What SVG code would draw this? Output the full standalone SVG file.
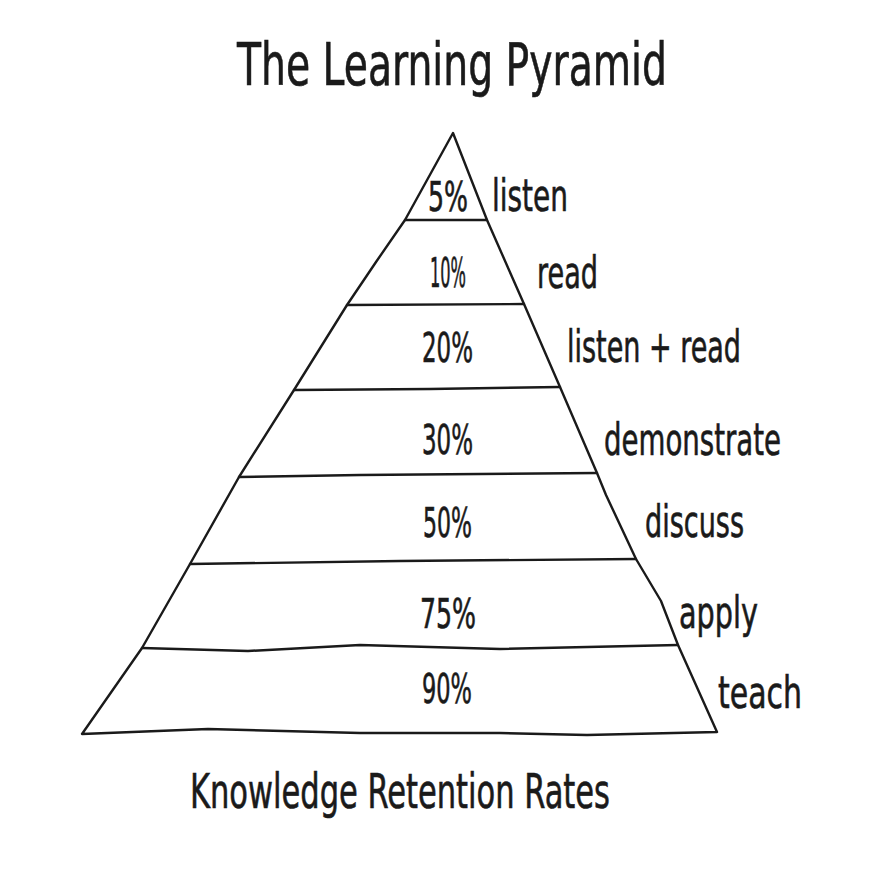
<svg xmlns="http://www.w3.org/2000/svg" width="876" height="886" viewBox="0 0 876 886">
<style>
.ln{fill:none;stroke:#1a1a1a;stroke-width:2.4;stroke-linejoin:round;stroke-linecap:round}
.t{font-family:"Liberation Sans Narrow","DejaVu Sans Condensed","Liberation Sans",sans-serif;fill:#1a1a1a;stroke:#1a1a1a;stroke-width:0.6}
.pct{font-size:40px}
.lab{font-size:44px}
</style>
<rect width="876" height="886" fill="#ffffff"/>
<g id="title"><text class="t" x="237" y="85" font-size="58" textLength="430" lengthAdjust="spacingAndGlyphs">The Learning Pyramid</text></g>
<g id="pyramid">
<path class="ln" d="M453 133 L487 220 L524 304 L560 387 L597 473 L606 495 L636 559 L661 601 L678 645 L717 732 L587 735 L500 733 L360 733 L208 729 L82 734 L142 648 L158 620 L190 564 L239 477 L294 390 L347 305 L376 262 L405 220 Z"/>
</g>
<g id="connectors">
<path class="ln" d="M405 220 L487 220"/>
<path class="ln" d="M347 305 L524 304"/>
<path class="ln" d="M294 390 L430 389 L560 387"/>
<path class="ln" d="M239 477 L360 475 L597 473"/>
<path class="ln" d="M190 564 L400 561 L636 559"/>
<path class="ln" d="M142 648 L248 651 L360 645 L500 649 L678 645"/>
</g>
<g id="tier-listen"><text class="t pct" x="428" y="211" textLength="40" lengthAdjust="spacingAndGlyphs">5%</text><text class="t lab" x="492" y="211" textLength="76" lengthAdjust="spacingAndGlyphs">listen</text></g>
<g id="tier-read"><text class="t pct" x="430" y="287" textLength="36" lengthAdjust="spacingAndGlyphs">10%</text><text class="t lab" x="537" y="288" textLength="61" lengthAdjust="spacingAndGlyphs">read</text></g>
<g id="tier-listen-read"><text class="t pct" x="422" y="362" textLength="51" lengthAdjust="spacingAndGlyphs">20%</text><text class="t lab" x="567" y="362" textLength="174" lengthAdjust="spacingAndGlyphs">listen + read</text></g>
<g id="tier-demonstrate"><text class="t pct" x="422" y="454" textLength="51" lengthAdjust="spacingAndGlyphs">30%</text><text class="t lab" x="604" y="455" textLength="177" lengthAdjust="spacingAndGlyphs">demonstrate</text></g>
<g id="tier-discuss"><text class="t pct" x="423" y="537" textLength="49" lengthAdjust="spacingAndGlyphs">50%</text><text class="t lab" x="645" y="537" textLength="99" lengthAdjust="spacingAndGlyphs">discuss</text></g>
<g id="tier-apply"><text class="t pct" x="420" y="628" textLength="56" lengthAdjust="spacingAndGlyphs">75%</text><text class="t lab" x="679" y="628" textLength="79" lengthAdjust="spacingAndGlyphs">apply</text></g>
<g id="tier-teach"><text class="t pct" x="422" y="703" textLength="50" lengthAdjust="spacingAndGlyphs">90%</text><text class="t lab" x="718" y="708" textLength="84" lengthAdjust="spacingAndGlyphs">teach</text></g>
<g id="caption"><text class="t" x="190" y="808" font-size="48" textLength="420" lengthAdjust="spacingAndGlyphs">Knowledge Retention Rates</text></g>
</svg>
